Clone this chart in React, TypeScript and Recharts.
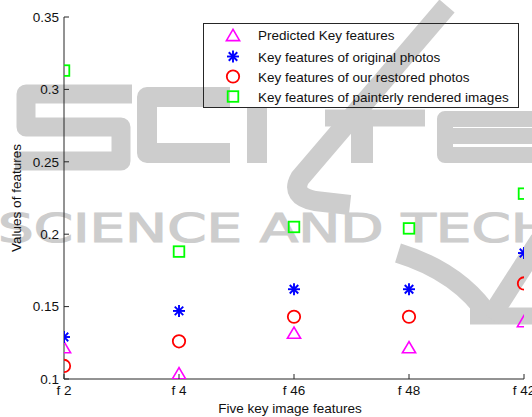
import React from 'react';
import { ScatterChart, Scatter, XAxis, YAxis, Legend, Label } from 'recharts';

const categories = ['f 2', 'f 4', 'f 46', 'f 48', 'f 42'];
const predicted = [0.122, 0.104, 0.132, 0.122, 0.140];
const original = [0.129, 0.147, 0.162, 0.162, 0.187];
const restored = [0.109, 0.126, 0.143, 0.143, 0.166];
const painterly = [0.313, 0.188, 0.205, 0.204, 0.228];
const yTicks = [0.1, 0.15, 0.2, 0.25, 0.3, 0.35];
const xTicks = [1, 2, 3, 4, 5];

const seriesNames = [
  'Predicted Key features',
  'Key features of original photos',
  'Key features of our restored photos',
  'Key features of painterly rendered images',
];
const seriesColors = ['#ff00ff', '#0000ff', '#ff0000', '#00ff00'];
const seriesShapes = ['triangle', 'star', 'circle', 'square'];

const toPoints = (vals: number[]) => vals.map((v, i) => ({ x: i + 1, y: v }));

const FONT = '"Liberation Sans", Arial, sans-serif';
const FS = 13.5;
const AXIS = '#262626';
const TEXT = '#111111';
const SW = 1.6;
const WM = '#cdcdcd';

function Marker({ kind, cx, cy, color }: { kind: string; cx: number; cy: number; color: string }) {
  if (kind === 'triangle') {
    const hw = 6.6;
    const hh = 5.6;
    return (
      <polygon
        points={`${cx},${cy - hh} ${cx - hw},${cy + hh} ${cx + hw},${cy + hh}`}
        fill="none"
        stroke={color}
        strokeWidth={SW}
      />
    );
  }
  if (kind === 'circle') {
    return <circle cx={cx} cy={cy} r={6.2} fill="none" stroke={color} strokeWidth={SW + 0.2} />;
  }
  if (kind === 'square') {
    const h = 5.3;
    return <rect x={cx - h} y={cy - h} width={2 * h} height={2 * h} fill="none" stroke={color} strokeWidth={SW + 0.2} />;
  }
  const r = 6;
  const d = r * 0.7071;
  return (
    <g stroke={color} strokeWidth={SW + 0.3}>
      <line x1={cx - r} y1={cy} x2={cx + r} y2={cy} />
      <line x1={cx} y1={cy - r} x2={cx} y2={cy + r} />
      <line x1={cx - d} y1={cy - d} x2={cx + d} y2={cy + d} />
      <line x1={cx - d} y1={cy + d} x2={cx + d} y2={cy - d} />
    </g>
  );
}

const makeShape = (idx: number) => (props: any) => {
  const { cx, cy } = props;
  if (cx == null || cy == null) return <g />;
  return <Marker kind={seriesShapes[idx]} cx={cx} cy={cy} color={seriesColors[idx]} />;
};

const BOTTOM_M = 4;
const BottomTick = (props: any) => {
  const { x, y, payload } = props;
  const ay = y - BOTTOM_M;
  return (
    <g>
      <line x1={x} y1={ay} x2={x} y2={ay - 5} stroke={AXIS} strokeWidth={1} />
      <text x={x} y={ay + 16} textAnchor="middle" fontSize={FS} fontFamily={FONT} fill={TEXT}>
        {categories[payload.value - 1]}
      </text>
    </g>
  );
};

const LEFT_M = 5;
const LeftTick = (props: any) => {
  const { x, y, payload } = props;
  const ax = x + LEFT_M;
  return (
    <g>
      <line x1={ax} y1={y} x2={ax + 5} y2={y} stroke={AXIS} strokeWidth={1} />
      <text x={x} y={y + 4.8} textAnchor="end" fontSize={FS} fontFamily={FONT} fill={TEXT}>
        {String(payload.value)}
      </text>
    </g>
  );
};

const TopTick = (props: any) => {
  const { x, y } = props;
  return <line x1={x} y1={y} x2={x} y2={y + 5} stroke={AXIS} strokeWidth={1} />;
};

const RightTick = (props: any) => {
  const { x, y } = props;
  return <line x1={x} y1={y} x2={x - 5} y2={y} stroke={AXIS} strokeWidth={1} />;
};

const LegendContent = (props: any) => {
  const payload = (props.payload || []) as any[];
  const rowY = [12, 33.5, 53.5, 73.5];
  return (
    <svg width={316} height={85} style={{ display: 'block' }}>
      <rect x={0.5} y={0.5} width={315} height={84} fill="none" stroke={AXIS} strokeWidth={1} />
      {payload.map((p, i) => {
        const idx = seriesNames.indexOf(p.value);
        const k = idx >= 0 ? idx : i;
        return (
          <g key={p.value}>
            <Marker kind={seriesShapes[k]} cx={30} cy={rowY[k]} color={seriesColors[k]} />
            <text x={55} y={rowY[k] + 5} fontSize={FS} fontFamily={FONT} fill={TEXT}>
              {p.value}
            </text>
          </g>
        );
      })}
    </svg>
  );
};

const YLabel = (props: any) => {
  const vb = props.viewBox || {};
  const cx = 16;
  const cy = vb.y + vb.height / 2;
  return (
    <text
      x={cx}
      y={cy}
      transform={`rotate(-90, ${cx}, ${cy})`}
      textAnchor="middle"
      dominantBaseline="central"
      fontSize={FS}
      fontFamily={FONT}
      fill={TEXT}
    >
      Values of features
    </text>
  );
};

const Watermark = () => (
  <svg width={532} height={417} style={{ position: 'absolute', left: 0, top: 0 }}>
    <g fill="none" stroke={WM} strokeLinejoin="round">
      <path d="M 132 94 L 26 94 L 26 127 L 121 127 L 121 161 L 15 161" strokeWidth={19} />
      <path d="M 230 97 L 147 97 L 147 153 L 230 153" strokeWidth={20} />
      <path d="M 257 107 L 257 163" strokeWidth={20} strokeLinejoin="miter" />
      <path d="M 447 6 L 300 178 Q 290 196 315 201 L 350 205" strokeWidth={20} />
      <path d="M 325 118 L 425 118" strokeWidth={17} />
      <path d="M 362 110 L 362 163" strokeWidth={22} />
      <path d="M 445 136 L 540 136 L 540 119 L 445 119 L 445 155 L 545 155" strokeWidth={16} />
      <path d="M 398 253 Q 460 272 490 318" strokeWidth={20} />
      <path d="M 470 316 L 545 316" strokeWidth={17} />
      <path d="M 490 318 L 540 240" strokeWidth={20} />
    </g>
    <text
      x={-2}
      y={242}
      fontSize={39}
      fontFamily="'DejaVu Sans', sans-serif"
      textLength={790}
      lengthAdjust="spacingAndGlyphs"
      fill={WM}
      stroke={WM}
      strokeWidth={1.2}
    >
      SCIENCE AND TECHNOLOGY
    </text>
  </svg>
);

export default function App() {
  const data = [predicted, original, restored, painterly].map(toPoints);
  return (
    <div style={{ position: 'absolute', left: 0, top: 0, width: 532, height: 417, background: '#ffffff', overflow: 'hidden' }}>
      <Watermark />
      <div style={{ position: 'absolute', left: 0, top: 0 }}>
        <ScatterChart width={532} height={417} margin={{ top: 17, right: 8, bottom: 0, left: 0 }}>
          <XAxis
            dataKey="x"
            type="number"
            domain={[1, 5]}
            ticks={xTicks}
            height={38}
            tickLine={false}
            tickSize={0}
            tickMargin={BOTTOM_M}
            tick={<BottomTick />}
            axisLine={{ stroke: AXIS, strokeWidth: 1 }}
            interval={0}
            allowDataOverflow
          >
            <Label
              content={(p: any) => {
                const vb = p.viewBox || {};
                return (
                  <text
                    x={vb.x + vb.width / 2 - 4}
                    y={413}
                    textAnchor="middle"
                    fontSize={FS}
                    fontFamily={FONT}
                    fill={TEXT}
                  >
                    Five key image features
                  </text>
                );
              }}
            />
          </XAxis>
          <XAxis
            xAxisId="top"
            orientation="top"
            dataKey="x"
            type="number"
            domain={[1, 5]}
            ticks={xTicks}
            height={0}
            tickLine={false}
            tickSize={0}
            tickMargin={0}
            tick={<TopTick />}
            axisLine={{ stroke: AXIS, strokeWidth: 1 }}
            interval={0}
            allowDataOverflow
          />
          <YAxis
            dataKey="y"
            type="number"
            domain={[0.1, 0.35]}
            ticks={yTicks}
            width={64}
            tickLine={false}
            tickSize={0}
            tickMargin={LEFT_M}
            tick={<LeftTick />}
            axisLine={{ stroke: AXIS, strokeWidth: 1 }}
            interval={0}
            allowDataOverflow
          >
            <Label content={<YLabel />} />
          </YAxis>
          <YAxis
            yAxisId="right"
            orientation="right"
            dataKey="y"
            type="number"
            domain={[0.1, 0.35]}
            ticks={yTicks}
            width={0}
            tickLine={false}
            tickSize={0}
            tickMargin={0}
            tick={<RightTick />}
            axisLine={{ stroke: AXIS, strokeWidth: 1 }}
            interval={0}
            allowDataOverflow
          />
          <Legend
            layout="vertical"
            align="center"
            verticalAlign="middle"
            content={<LegendContent />}
            wrapperStyle={{ position: 'absolute', left: 203, top: 23, width: 316, height: 85 }}
          />
          {data.map((d, i) => (
            <Scatter
              key={seriesNames[i]}
              name={seriesNames[i]}
              data={d}
              fill={seriesColors[i]}
              shape={makeShape(i)}
              isAnimationActive={false}
            />
          ))}
        </ScatterChart>
      </div>
    </div>
  );
}
